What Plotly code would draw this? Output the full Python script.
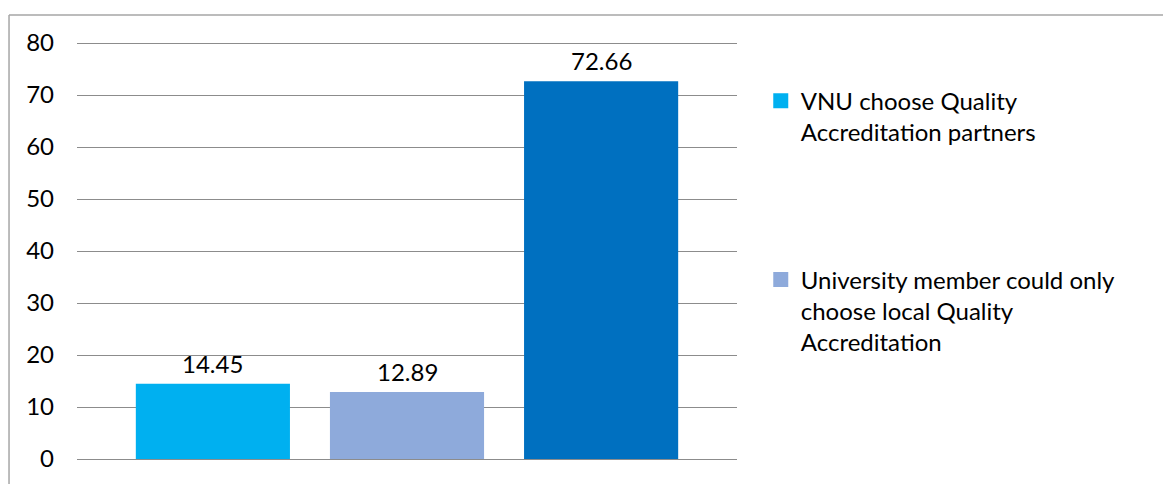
import plotly.graph_objects as go

categories = ["VNU choose Quality Accreditation partners",
              "University member could only choose local Quality Accreditation",
              "Other"]
legend_names = ["VNU choose Quality<br>Accreditation partners",
                "University member could only<br>choose local Quality<br>Accreditation",
                ""]
values = [14.45, 12.89, 72.66]
labels = ["14.45", "12.89", "72.66"]
colors = ["#00B0F0", "#8EAADB", "#0070C0"]
show_leg = [True, True, False]
legend_ids = ["legend", "legend2", "legend"]
y_ticks = [0, 10, 20, 30, 40, 50, 60, 70, 80]

FONT = "Lato"
FS = 24
fig = go.Figure()
for i in range(len(values)):
    fig.add_trace(go.Bar(
        x=[categories[i]], y=[values[i]], name=legend_names[i],
        marker=dict(color=colors[i], line=dict(width=0)),
        showlegend=False, hoverinfo="skip",
    ))
    if show_leg[i]:
        fig.add_trace(go.Scatter(
            x=[None], y=[None], mode="markers", name=legend_names[i],
            marker=dict(symbol="square", size=15, color=colors[i]),
            legend=legend_ids[i], showlegend=True,
        ))
    fig.add_annotation(x=categories[i], y=values[i], text=labels[i],
                       showarrow=False, yanchor="bottom", yshift=4,
                       font=dict(family=FONT, size=FS, color="#000000"))

grid_col = "#8c8c8c"
fig.update_layout(
    width=1163, height=484,
    margin=dict(l=77, r=426, t=41, b=20),
    paper_bgcolor="white", plot_bgcolor="white",
    barmode="overlay", bargap=0.206,
    font=dict(family=FONT, size=FS, color="#000000"),
    xaxis=dict(range=[-0.7, 2.7], showticklabels=False, showgrid=False,
               zeroline=False, showline=False, fixedrange=True),
    yaxis=dict(range=[0, 80.4], tickvals=y_ticks, showgrid=True,
               gridcolor=grid_col, gridwidth=1.3, zeroline=True,
               zerolinecolor=grid_col, zerolinewidth=1.3, showline=False,
               ticks="", ticklabelstandoff=22,
               tickfont=dict(family=FONT, size=FS, color="#000000")),
    legend=dict(x=1.036, y=0.91, xanchor="left", yanchor="top", valign="top",
                bgcolor="rgba(0,0,0,0)", font=dict(family=FONT, size=FS),
                itemclick=False, itemdoubleclick=False),
    legend2=dict(x=1.036, y=0.482, xanchor="left", yanchor="top", valign="top",
                 bgcolor="rgba(0,0,0,0)", font=dict(family=FONT, size=FS),
                 itemclick=False, itemdoubleclick=False),
    shapes=[
        dict(type="line", xref="paper", yref="paper",
             x0=-0.103, x1=1.65, y0=1.062, y1=1.062,
             line=dict(color="#a6a6a6", width=1.5)),
        dict(type="line", xref="paper", yref="paper",
             x0=-0.103, x1=-0.103, y0=1.062, y1=-0.06,
             line=dict(color="#a6a6a6", width=1.5)),
    ],
)
fig.write_html("out.html")
